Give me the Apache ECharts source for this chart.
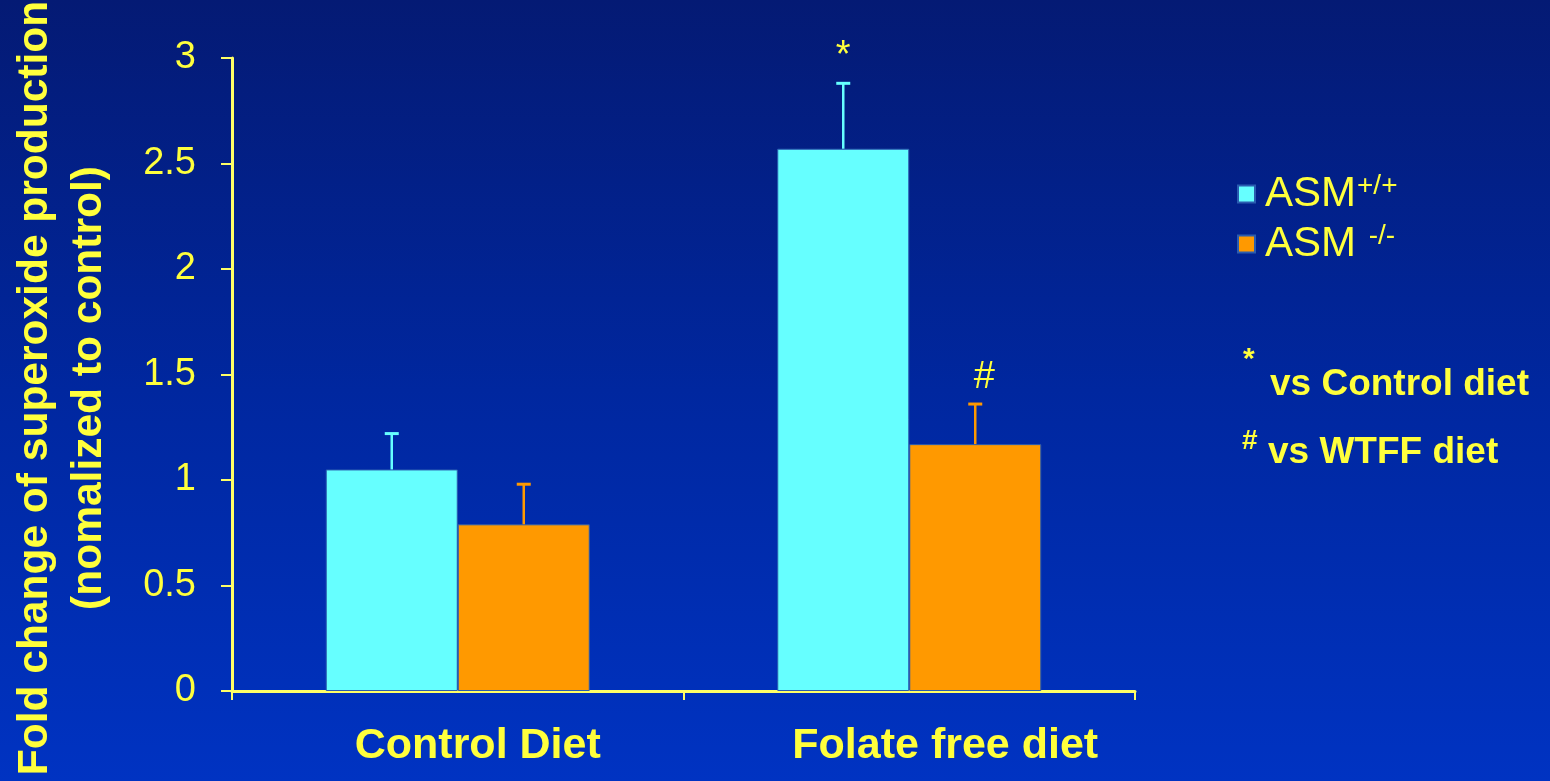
<!DOCTYPE html>
<html>
<head>
<meta charset="utf-8">
<title>Fold change of superoxide production</title>
<script src="https://cdn.jsdelivr.net/npm/echarts@6/dist/echarts.min.js"></script>
<style>
  html, body { margin: 0; padding: 0; width: 100%; height: 100%; overflow: hidden; }
  #chart { width: 1550px; height: 781px; }
</style>
</head>
<body>
<div id="chart"></div>
<script>
// Diet groups along the x axis
const categories = ['Control Diet', 'Folate free diet'];

// Genotype series (mean fold change, normalized to control)
const seriesNames = ['ASM+/+', 'ASM -/-'];
const asmWild = [1.05, 2.57];
const asmKnockout = [0.79, 1.17];

// Upper error-bar ends (mean + SE)
const asmWildErrTop = [1.22, 2.88];
const asmKnockoutErrTop = [0.98, 1.36];

// Significance marks above each bar ('' = none)
const asmWildMarks = ['', '*'];
const asmKnockoutMarks = ['', '#'];

// Y axis range and step
const yMin = 0, yMax = 3, yStep = 0.5;

const YELLOW_TEXT = '#ffff3c';
const YELLOW_AXIS = '#ffff66';
const CYAN = '#66ffff';
const ORANGE = '#ff9900';
const FONT = 'Liberation Sans, Arial, Helvetica, sans-serif';
const BAR_W = 132;

const chart = echarts.init(document.getElementById('chart'), null, { renderer: 'canvas' });

// Error bar + significance mark drawn over one bar of each category
function errorSeries(name, means, tops, marks, color, side, markDx) {
  return {
    type: 'custom',
    name: name + ' error',
    z: 5,
    silent: true,
    data: categories.map((c, i) => [i, means[i], tops[i]]),
    renderItem(params, api) {
      const i = api.value(0);
      const base = api.coord([i, api.value(1)]);
      const tip = api.coord([i, api.value(2)]);
      const x = base[0] + side * BAR_W / 2;
      const cap = 7;
      const children = [
        { type: 'line', shape: { x1: x, y1: base[1], x2: x, y2: tip[1] },
          style: { stroke: color, lineWidth: 2.5 } },
        { type: 'line', shape: { x1: x - cap, y1: tip[1], x2: x + cap, y2: tip[1] },
          style: { stroke: color, lineWidth: 3 } }
      ];
      const mark = marks[params.dataIndex];
      if (mark) {
        children.push({
          type: 'text',
          style: {
            text: mark, x: x + markDx, y: tip[1] - 8,
            align: 'center', verticalAlign: 'bottom',
            font: '38px ' + FONT, fill: YELLOW_TEXT
          }
        });
      }
      return { type: 'group', children };
    }
  };
}

const labelRich = {
  a: { fontSize: 43, fontWeight: 'bold', fontFamily: FONT, color: YELLOW_TEXT, padding: [0, 0, 0, 40] },
  b: { fontSize: 43, fontWeight: 'bold', fontFamily: FONT, color: YELLOW_TEXT, padding: [0, 0, 0, 72] }
};

const option = {
  animation: false,
  backgroundColor: {
    type: 'linear', x: 0, y: 0, x2: 0, y2: 1,
    colorStops: [
      { offset: 0, color: '#041a74' },
      { offset: 0.5, color: '#00279f' },
      { offset: 1, color: '#0033c2' }
    ]
  },
  grid: { left: 232, right: 415, top: 58, bottom: 90, containLabel: false },
  legend: {
    orient: 'vertical',
    left: 1237,
    top: 172,
    padding: 0,
    itemGap: 6,
    itemWidth: 17,
    itemHeight: 17,
    icon: 'rect',
    data: seriesNames,
    formatter(name) {
      return name === seriesNames[0] ? '{n|ASM}{s|+/+}' : '{n|ASM }{s|-/-}';
    },
    textStyle: {
      color: YELLOW_TEXT,
      fontFamily: FONT,
      rich: {
        n: { fontSize: 42, lineHeight: 42, color: YELLOW_TEXT, fontFamily: FONT, padding: [0, 0, 0, 5] },
        s: { fontSize: 28, lineHeight: 42, color: YELLOW_TEXT, fontFamily: FONT, padding: [0, 0, 16, 1] }
      }
    }
  },
  xAxis: {
    type: 'category',
    data: categories,
    boundaryGap: true,
    axisLine: { lineStyle: { color: YELLOW_AXIS, width: 3 } },
    axisTick: { show: true, length: 9, lineStyle: { color: YELLOW_AXIS, width: 2 } },
    axisLabel: {
      margin: 34,
      formatter(value, idx) { return (idx === 0 ? '{a|' : '{b|') + value + '}'; },
      rich: labelRich
    }
  },
  yAxis: {
    type: 'value',
    min: yMin, max: yMax, interval: yStep,
    axisLine: { show: true, lineStyle: { color: YELLOW_AXIS, width: 3 } },
    axisTick: { show: true, length: 11, lineStyle: { color: YELLOW_AXIS, width: 2 } },
    splitLine: { show: false },
    axisLabel: { color: YELLOW_TEXT, fontFamily: FONT, fontSize: 38, margin: 36 }
  },
  graphic: [
    {
      type: 'text',
      x: 62, y: 388,
      rotation: Math.PI / 2,
      style: {
        text: 'Fold change of superoxide production\n(nomalized to control)',
        align: 'center', verticalAlign: 'middle',
        font: 'bold 42.5px ' + FONT, lineHeight: 54, fill: YELLOW_TEXT
      }
    },
    { type: 'text', left: 1243, top: 345,
      style: { text: '*', font: 'bold 30px ' + FONT, fill: YELLOW_TEXT } },
    { type: 'text', left: 1270, top: 366,
      style: { text: 'vs Control diet', font: 'bold 37px ' + FONT, fill: YELLOW_TEXT } },
    { type: 'text', left: 1242, top: 427,
      style: { text: '#', font: 'bold 28px ' + FONT, fill: YELLOW_TEXT } },
    { type: 'text', left: 1268, top: 434,
      style: { text: 'vs WTFF diet', font: 'bold 37px ' + FONT, fill: YELLOW_TEXT } }
  ],
  series: [
    {
      name: seriesNames[0], type: 'bar', data: asmWild,
      barWidth: BAR_W, barGap: '0%',
      itemStyle: { color: CYAN, borderColor: '#2a5cb0', borderWidth: 1 }
    },
    {
      name: seriesNames[1], type: 'bar', data: asmKnockout,
      barWidth: BAR_W, barGap: '0%',
      itemStyle: { color: ORANGE, borderColor: '#2a5cb0', borderWidth: 1 }
    },
    errorSeries(seriesNames[0], asmWild, asmWildErrTop, asmWildMarks, CYAN, -1, 0),
    errorSeries(seriesNames[1], asmKnockout, asmKnockoutErrTop, asmKnockoutMarks, ORANGE, 1, 9)
  ]
};

chart.setOption(option);
</script>
</body>
</html>
